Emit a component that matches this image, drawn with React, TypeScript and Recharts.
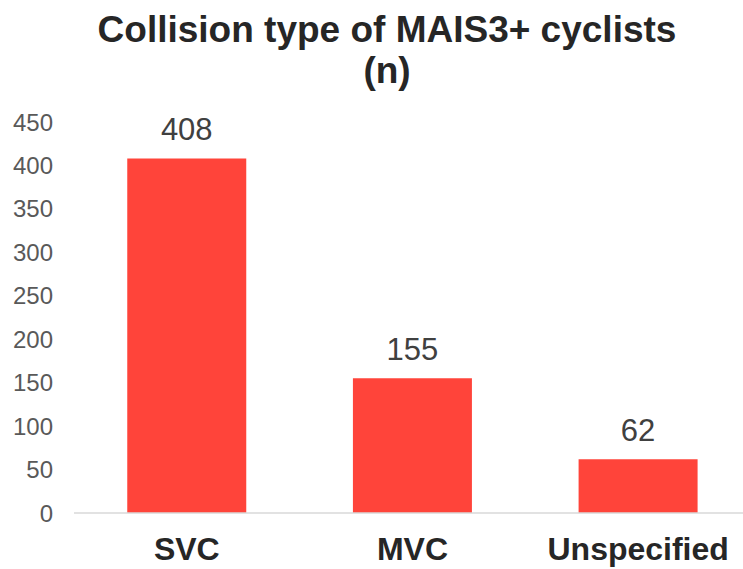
import React from "react";
import { BarChart, Bar, XAxis, YAxis, LabelList } from "recharts";

const categories = ["SVC", "MVC", "Unspecified"];
const counts = [408, 155, 62];
const yTicks = [0, 50, 100, 150, 200, 250, 300, 350, 400, 450];

const data = categories.map((c, i) => ({ name: c, value: counts[i] }));

const font = "'Liberation Sans', Arial, sans-serif";

export default function App() {
  return (
    <div
      style={{
        position: "fixed",
        left: 0,
        top: 0,
        width: 743,
        height: 569,
        overflow: "hidden",
        background: "#fff",
        fontFamily: font,
      }}
    >
      <div
        style={{
          position: "absolute",
          left: 0,
          top: 9,
          width: 774,
          textAlign: "center",
          fontWeight: "bold",
          fontSize: 37,
          lineHeight: "41px",
          color: "#262626",
        }}
      >
        Collision type of MAIS3+ cyclists
        <br />
        (n)
      </div>
      <div style={{ position: "absolute", left: 0, top: 0 }}>
        <BarChart
          width={760}
          height={569}
          data={data}
          margin={{ top: 122, right: 9, bottom: 0, left: 0 }}
          barCategoryGap="23.6%"
        >
          <XAxis
            dataKey="name"
            height={56}
            tickLine={false}
            tickSize={0}
            tickMargin={24}
            axisLine={{ stroke: "#D9D9D9", strokeWidth: 1.5 }}
            tick={{ fill: "#262626", fontSize: 32, fontWeight: "bold", fontFamily: font }}
            interval={0}
          />
          <YAxis
            width={74}
            domain={[0, 450]}
            ticks={yTicks}
            axisLine={false}
            tickLine={false}
            tickSize={0}
            tickMargin={21}
            tick={{ fill: "#595959", fontSize: 24, fontFamily: font }}
            interval={0}
          />
          <Bar dataKey="value" fill="#FF443A" isAnimationActive={false}>
            <LabelList
              dataKey="value"
              position="top"
              offset={18}
              style={{ fill: "#404040", fontSize: 31, fontFamily: font }}
            />
          </Bar>
        </BarChart>
      </div>
    </div>
  );
}
